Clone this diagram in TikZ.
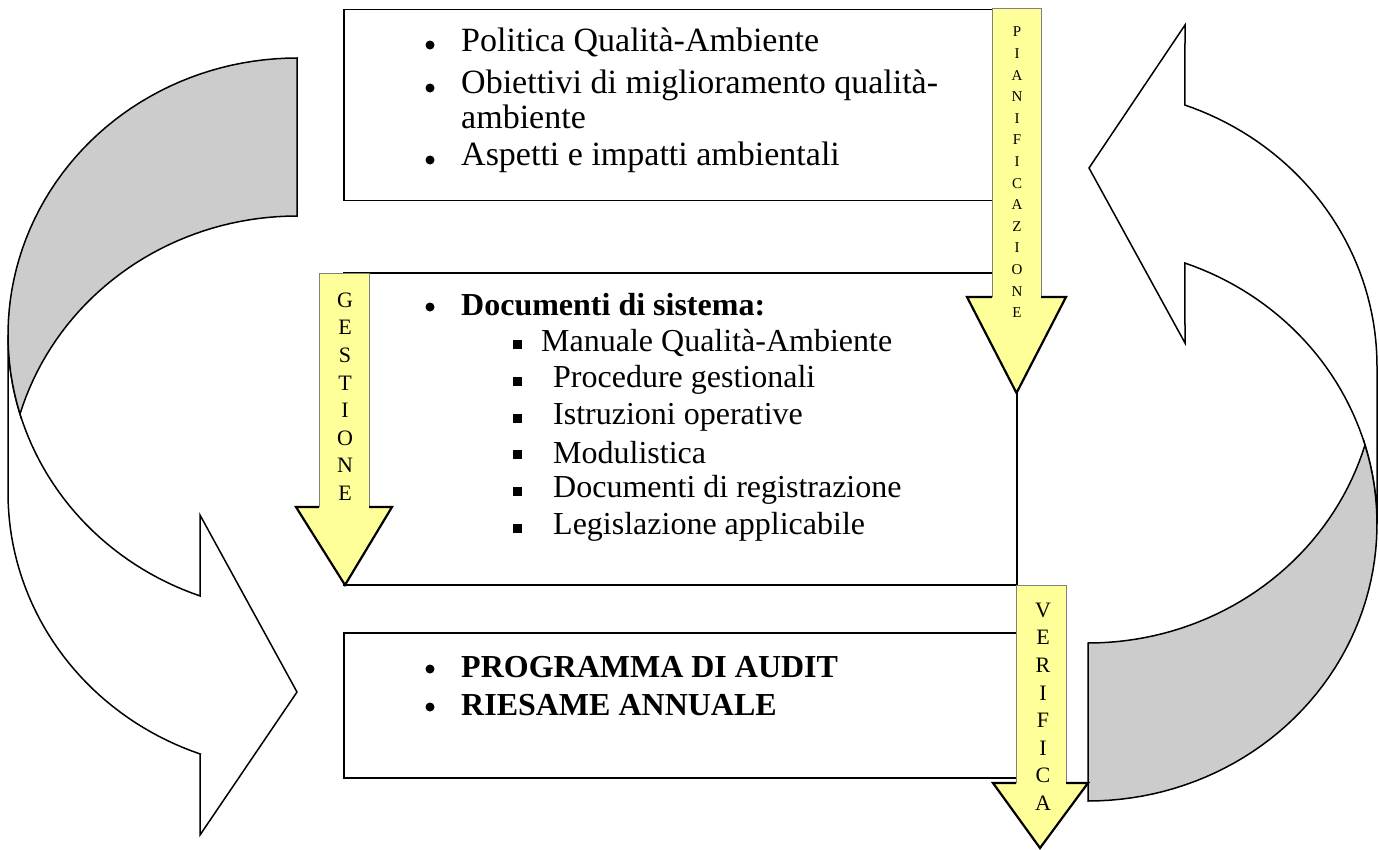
\documentclass[tikz,border=0pt]{standalone}
\usepackage{fontspec}
\setmainfont{Liberation Serif}
\definecolor{backgray}{HTML}{CCCCCC}
\definecolor{padyellow}{HTML}{FFFF99}
\definecolor{shaftedge}{HTML}{808080}
% yellow block arrow pointing down:
% #1 shaft left, #2 shaft right, #3 top, #4 head top, #5 wing left, #6 wing right, #7 tip x, #8 tip y
\newcommand\padarrow[8]{%
  \fill[padyellow] (#1,#3) -- (#2,#3) -- (#2,#4) -- (#6,#4) -- (#7,#8) -- (#5,#4) -- (#1,#4) -- cycle;
  \draw[shaftline] (#1,#4) -- (#1,#3) -- (#2,#3) -- (#2,#4);
  \draw[headline] (#2,#4) -- (#6,#4) -- (#7,#8) -- (#5,#4) -- (#1,#4);
}
\begin{document}
\begin{tikzpicture}[x=1pt,y=-1pt,
  outline/.style={draw=black, line width=1.5pt, line join=miter},
  backface/.style={outline, fill=backgray},
  frontface/.style={outline, fill=white},
  box/.style={draw=black, line width=1.5pt, fill=white, inner sep=0pt},
  shaftline/.style={draw=shaftedge, line width=0.8pt},
  headline/.style={draw=black, line width=2.2pt, line join=miter},
  txt/.style={anchor=west, inner sep=0pt, font=\fontsize{32}{38}\selectfont},
  bigtxt/.style={anchor=west, inner sep=0pt, font=\fontsize{34}{40}\selectfont},
  btxt/.style={txt, font=\fontsize{32}{38}\selectfont\bfseries},
  dot/.style={circle, fill=black, inner sep=0pt, minimum size=9pt},
  sq/.style={fill=black, inner sep=0pt, minimum size=9pt},
  smallletter/.style={inner sep=0pt, font=\fontsize{15}{15}\selectfont},
  bigletter/.style={inner sep=0pt, font=\fontsize{22}{22}\selectfont},
]
\useasboundingbox (0,0) rectangle (1379,849);

% left ribbon arrow: front face and visible back face
\draw[frontface] plot[domain=180:250.4,samples=40] ({297+289*cos(\x)},{335-277*sin(\x)})
  -- (200,515) -- (297,692) -- (200,835) -- (200,754)
  -- plot[domain=250.4:180,samples=40] ({297+289*cos(\x)},{493-277*sin(\x)}) -- cycle;
\draw[backface] plot[domain=90:196.6,samples=50] ({297+289*cos(\x)},{335-277*sin(\x)})
  -- plot[domain=163.4:90,samples=40] ({297+289*cos(\x)},{493-277*sin(\x)}) -- cycle;

% right ribbon arrow
\draw[frontface] plot[domain=70.4:0,samples=40] ({1088+289*cos(\x)},{366-277*sin(\x)})
  -- (1377,524)
  -- plot[domain=0:70.4,samples=40] ({1088+289*cos(\x)},{524-277*sin(\x)})
  -- (1185,343) -- (1089,168) -- (1185,25) -- cycle;
\draw[backface] plot[domain=-16.6:-90,samples=40] ({1088+289*cos(\x)},{366-277*sin(\x)})
  -- plot[domain=-90:16.6,samples=50] ({1088+289*cos(\x)},{524-277*sin(\x)}) -- cycle;

% boxes
\node[box, minimum width=673pt, minimum height=191pt] (plan) at (680.5,105) {};
\node[box, minimum width=673pt, minimum height=312pt] (docs) at (680.5,429) {};
\node[box, minimum width=673pt, minimum height=145pt] (audit) at (680.5,705.5) {};

% first box
\node[dot] (p1) at (430,45) {};
\node[bigtxt] (pt1) at (461,42) {Politica Qualità-Ambiente};
\node[dot] (p2) at (430,88) {};
\node[bigtxt] (pt2) at (461,85) {Obiettivi di miglioramento qualità-};
\node[bigtxt] (pt3) at (461,117) {ambiente};
\node[dot] (p3) at (430,160) {};
\node[bigtxt] (pt4) at (461,157) {Aspetti e impatti ambientali};

% second box
\node[dot] (d0) at (430,307) {};
\node[btxt] (dt0) at (461,305) {Documenti di sistema:};
\node[sq] (s1) at (517,344) {};
\node[txt] (dt1) at (541,343) {Manuale Qualità-Ambiente};
\node[sq] (s2) at (517,381) {};
\node[txt] (dt2) at (553,380) {Procedure gestionali};
\node[sq] (s3) at (517,418) {};
\node[txt] (dt3) at (553,417) {Istruzioni operative};
\node[sq] (s4) at (517,454) {};
\node[txt] (dt4) at (553,453) {Modulistica};
\node[sq] (s5) at (517,491) {};
\node[txt] (dt5) at (553,490) {Documenti di registrazione};
\node[sq] (s6) at (517,528) {};
\node[txt] (dt6) at (553,527) {Legislazione applicabile};

% third box
\node[dot] (a1) at (430,669) {};
\node[btxt] (at1) at (461,667) {PROGRAMMA DI AUDIT};
\node[dot] (a2) at (430,707) {};
\node[btxt] (at2) at (461,705) {RIESAME ANNUALE};

% yellow phase arrows
\padarrow{992}{1041}{8}{297}{967}{1066}{1016.5}{393}
\foreach \l [count=\i from 0] in {P,I,A,N,I,F,I,C,A,Z,I,O,N,E}
  \node[smallletter] (pl\i) at (1017,{32+21.6*\i}) {\l};

\padarrow{319}{369}{273}{507}{296}{392}{345}{585}
\foreach \l [count=\i from 0] in {G,E,S,T,I,O,N,E}
  \node[bigletter] (gl\i) at (345,{300+27.6*\i}) {\l};

\padarrow{1016}{1066}{585}{783}{993}{1088}{1040}{848}
\foreach \l [count=\i from 0] in {V,E,R,I,F,I,C,A}
  \node[bigletter] (vl\i) at (1043,{610+27.6*\i}) {\l};
\end{tikzpicture}
\end{document}
